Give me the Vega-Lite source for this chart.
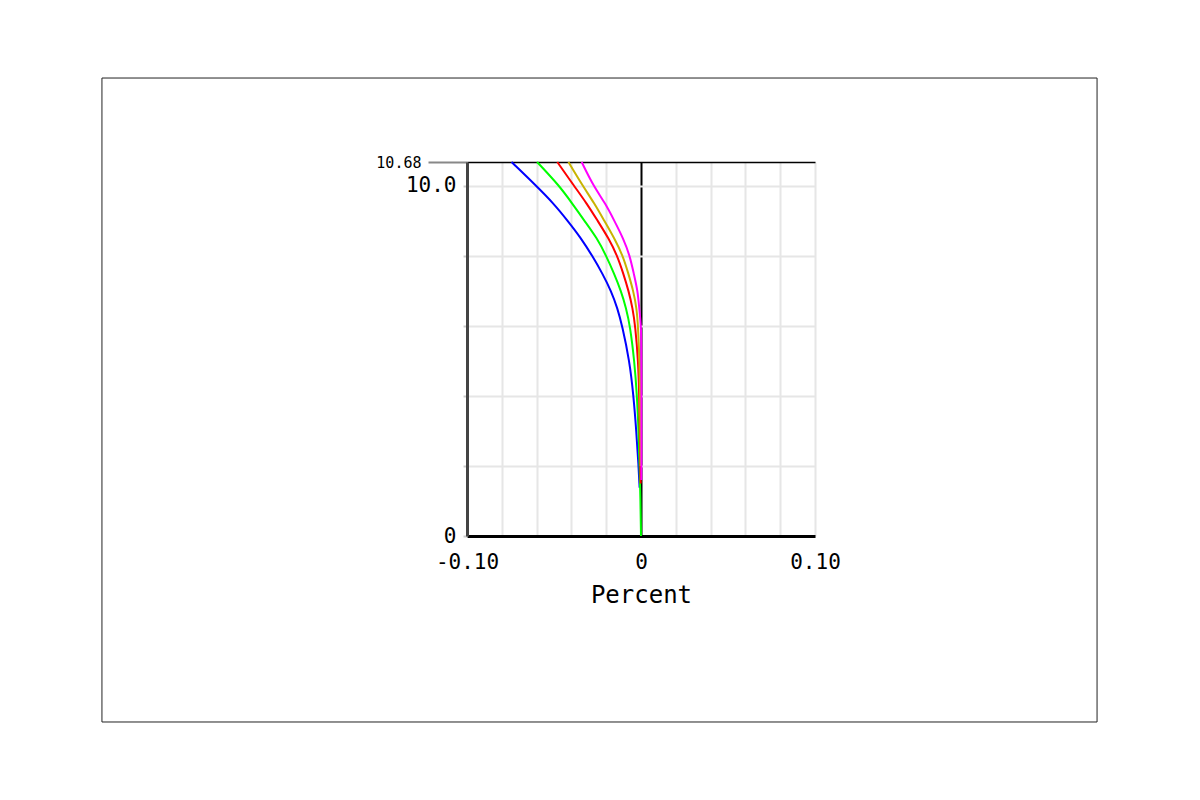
{
  "$schema": "https://vega.github.io/schema/vega-lite/v6.json",
  "width": 348,
  "height": 374,
  "autosize": "none",
  "padding": {"left": 467, "top": 162, "right": 385, "bottom": 264},
  "background": "white",
  "config": {
    "view": {"stroke": null},
    "font": "DejaVu Sans Mono",
    "axis": {"labelFont": "DejaVu Sans Mono", "titleFont": "DejaVu Sans Mono", "labelColor": "#000", "titleColor": "#000", "titleFontWeight": "normal", "labelOverlap": false}
  },
  "datasets": {
    "frame": [{"x0": -0.3098, "x1": 0.2621, "y0": -5.311, "y1": 13.078}],
    "curves": [
      {"series": "1", "depth": 1.38, "pct": -0.0008},
      {"series": "1", "depth": 2, "pct": -0.0014},
      {"series": "1", "depth": 3, "pct": -0.0027},
      {"series": "1", "depth": 4, "pct": -0.0043},
      {"series": "1", "depth": 5, "pct": -0.0066},
      {"series": "1", "depth": 6, "pct": -0.0108},
      {"series": "1", "depth": 6.5, "pct": -0.0135},
      {"series": "1", "depth": 7, "pct": -0.0172},
      {"series": "1", "depth": 7.5, "pct": -0.0222},
      {"series": "1", "depth": 8, "pct": -0.028},
      {"series": "1", "depth": 8.5, "pct": -0.0344},
      {"series": "1", "depth": 9, "pct": -0.0421},
      {"series": "1", "depth": 9.5, "pct": -0.0503},
      {"series": "1", "depth": 10, "pct": -0.0602},
      {"series": "1", "depth": 10.68, "pct": -0.0744},
      {"series": "2", "depth": 0, "pct": 0},
      {"series": "2", "depth": 1, "pct": -0.0003},
      {"series": "2", "depth": 2, "pct": -0.0008},
      {"series": "2", "depth": 3, "pct": -0.0014},
      {"series": "2", "depth": 4, "pct": -0.0023},
      {"series": "2", "depth": 5, "pct": -0.0038},
      {"series": "2", "depth": 6, "pct": -0.0063},
      {"series": "2", "depth": 6.5, "pct": -0.0085},
      {"series": "2", "depth": 7, "pct": -0.0115},
      {"series": "2", "depth": 7.5, "pct": -0.0155},
      {"series": "2", "depth": 8, "pct": -0.02},
      {"series": "2", "depth": 8.5, "pct": -0.0252},
      {"series": "2", "depth": 9, "pct": -0.0325},
      {"series": "2", "depth": 9.5, "pct": -0.0396},
      {"series": "2", "depth": 10, "pct": -0.0469},
      {"series": "2", "depth": 10.68, "pct": -0.0597},
      {"series": "3", "depth": 1.5, "pct": -0.0002},
      {"series": "3", "depth": 2, "pct": -0.0004},
      {"series": "3", "depth": 3, "pct": -0.0007},
      {"series": "3", "depth": 4, "pct": -0.001},
      {"series": "3", "depth": 5, "pct": -0.0016},
      {"series": "3", "depth": 6, "pct": -0.0033},
      {"series": "3", "depth": 6.5, "pct": -0.0048},
      {"series": "3", "depth": 7, "pct": -0.0071},
      {"series": "3", "depth": 7.5, "pct": -0.0102},
      {"series": "3", "depth": 8, "pct": -0.0136},
      {"series": "3", "depth": 8.5, "pct": -0.0186},
      {"series": "3", "depth": 9, "pct": -0.0249},
      {"series": "3", "depth": 9.5, "pct": -0.0312},
      {"series": "3", "depth": 10, "pct": -0.0385},
      {"series": "3", "depth": 10.68, "pct": -0.0481},
      {"series": "4", "depth": 2, "pct": -0.0002},
      {"series": "4", "depth": 3, "pct": -0.0003},
      {"series": "4", "depth": 4, "pct": -0.0005},
      {"series": "4", "depth": 5, "pct": -0.0009},
      {"series": "4", "depth": 6, "pct": -0.0017},
      {"series": "4", "depth": 6.5, "pct": -0.0025},
      {"series": "4", "depth": 7, "pct": -0.0044},
      {"series": "4", "depth": 7.5, "pct": -0.0073},
      {"series": "4", "depth": 8, "pct": -0.0104},
      {"series": "4", "depth": 8.5, "pct": -0.0153},
      {"series": "4", "depth": 9, "pct": -0.0211},
      {"series": "4", "depth": 9.5, "pct": -0.0268},
      {"series": "4", "depth": 10, "pct": -0.0335},
      {"series": "4", "depth": 10.68, "pct": -0.0417},
      {"series": "5", "depth": 1.6, "pct": 0.0002},
      {"series": "5", "depth": 2.5, "pct": 0.0003},
      {"series": "5", "depth": 3.5, "pct": 0.0002},
      {"series": "5", "depth": 4.5, "pct": 0.0003},
      {"series": "5", "depth": 5.5, "pct": 0.0002},
      {"series": "5", "depth": 6, "pct": 0},
      {"series": "5", "depth": 6.5, "pct": -0.001},
      {"series": "5", "depth": 7, "pct": -0.0019},
      {"series": "5", "depth": 7.5, "pct": -0.0042},
      {"series": "5", "depth": 8, "pct": -0.0064},
      {"series": "5", "depth": 8.5, "pct": -0.0102},
      {"series": "5", "depth": 9, "pct": -0.0153},
      {"series": "5", "depth": 9.5, "pct": -0.0205},
      {"series": "5", "depth": 10, "pct": -0.0274},
      {"series": "5", "depth": 10.68, "pct": -0.0341}
    ]
  },
  "layer": [
    {
      "data": {"name": "frame"},
      "mark": {"type": "rect", "fill": null, "stroke": "#222", "strokeWidth": 1, "clip": false},
      "encoding": {
        "x": {"field": "x0", "type": "quantitative", "title": "Percent"},
        "x2": {"field": "x1"},
        "y": {"field": "y0", "type": "quantitative", "title": null},
        "y2": {"field": "y1"}
      }
    },
    {
      "data": {"name": "curves"},
      "mark": {"type": "line", "strokeWidth": 2, "interpolate": "basis"},
      "encoding": {
        "x": {
          "field": "pct",
          "type": "quantitative",
          "title": "Percent",
          "scale": {"domain": [-0.1, 0.1], "nice": false, "zero": false},
          "axis": {
            "values": [-0.1, -0.08, -0.06, -0.04, -0.02, 0, 0.02, 0.04, 0.06, 0.08, 0.1],
            "tickCount": 30,
            "labelExpr": "datum.value < -0.09 ? '-0.10' : (datum.value > 0.09 ? '0.10' : (abs(datum.value) < 0.001 ? '0' : ''))",
            "labelFontSize": 21,
            "labelPadding": 15,
            "labelFlush": false,
            "labelOverlap": false,
            "ticks": false,
            "domain": true,
            "domainColor": "#000",
            "domainWidth": 3,
            "grid": true,
            "gridColor": {"condition": {"test": "abs(datum.value) < 0.001", "value": "#000"}, "value": "#e6e6e6"},
            "gridWidth": 2,
            "gridOpacity": 1,
            "titleFontSize": 24,
            "titlePadding": 11
          }
        },
        "y": {
          "field": "depth",
          "type": "quantitative",
          "title": null,
          "scale": {"domain": [0, 10.68], "nice": false, "zero": false},
          "axis": {
            "values": [0, 2, 4, 6, 8, 10, 10.68],
            "tickCount": 30,
            "labelExpr": "datum.value == 0 ? '0' : (datum.value == 10 ? '10.0' : (datum.value > 10.5 ? '10.68' : ''))",
            "labelFontSize": {"condition": {"test": "datum.value > 10.5", "value": 15}, "value": 21},
            "labelPadding": 7,
            "labelFlush": false,
            "labelOverlap": false,
            "labelBaseline": "middle",
            "ticks": true,
            "tickSize": {"condition": {"test": "datum.value > 10.5", "value": 39}, "value": 4},
            "tickColor": {"condition": {"test": "datum.value > 10.5", "value": "#888"}, "value": "#ccc"},
            "tickWidth": 2,
            "domain": true,
            "domainColor": "#444",
            "domainWidth": 3,
            "grid": true,
            "gridColor": {"condition": {"test": "datum.value > 10.5", "value": "#000"}, "value": "#e6e6e6"},
            "gridWidth": {"condition": {"test": "datum.value > 10.5", "value": 1.5}, "value": 2},
            "gridOpacity": 1
          }
        },
        "color": {
          "field": "series",
          "type": "nominal",
          "scale": {"domain": ["1", "2", "3", "4", "5"], "range": ["#0000ff", "#00ff00", "#ff0000", "#c8b400", "#ff00ff"]},
          "legend": null
        },
        "order": {"field": "depth", "type": "quantitative"}
      }
    }
  ]
}
